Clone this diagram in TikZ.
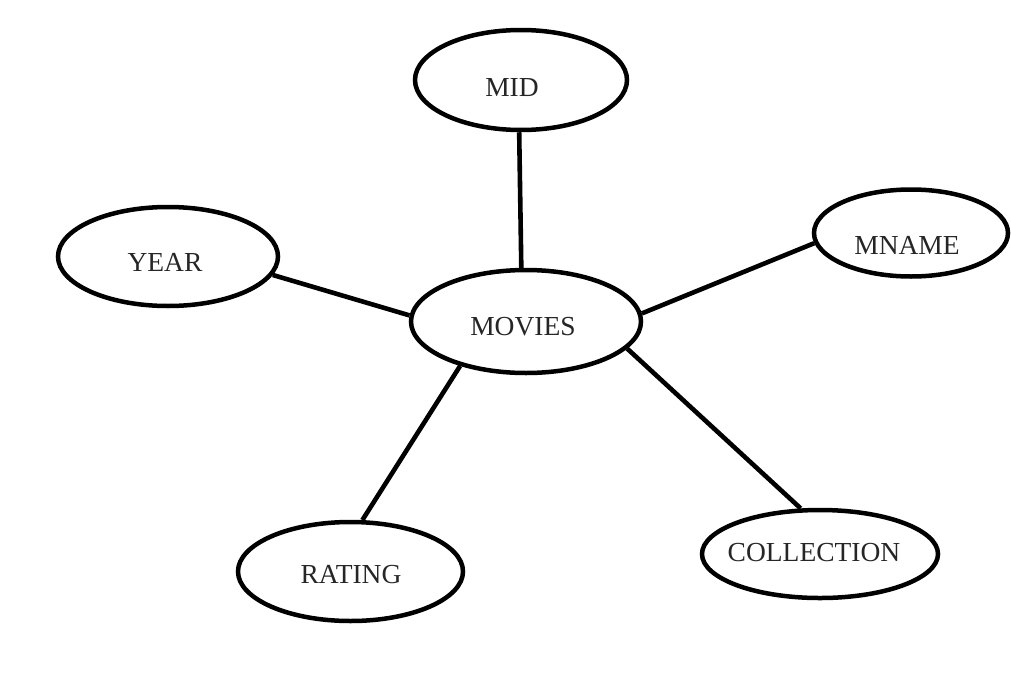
\documentclass[tikz,border=0pt]{standalone}
\usepackage{fontspec}
\setmainfont{Liberation Serif}
\usetikzlibrary{shapes.geometric}
\begin{document}
\begin{tikzpicture}[x=1pt,y=-1pt,
  ent/.style={draw=black,ellipse,line width=4.5pt,inner sep=0pt},
  lbl/.style={inner sep=0pt,text=black!85,font=\fontsize{27.5}{30}\selectfont},
  link/.style={draw=black,line width=4.6pt}]
\useasboundingbox[fill=white] (0,0) rectangle (1011,688);
% entities
\node[ent,minimum width=212pt,minimum height=100pt] (mid) at (521,80) {};
\node[ent,minimum width=220pt,minimum height=99pt] (year) at (168,256.5) {};
\node[ent,minimum width=230pt,minimum height=103pt] (movies) at (526,321.5) {};
\node[ent,minimum width=194pt,minimum height=87pt] (mname) at (911,233) {};
\node[ent,minimum width=225pt,minimum height=99pt] (rating) at (350.5,571.5) {};
\node[ent,minimum width=236pt,minimum height=88pt] (collection) at (820,554) {};
% labels
\node[lbl] (midT) at (512,88) {MID};
\node[lbl] (yearT) at (165,262) {YEAR};
\node[lbl] (moviesT) at (523,327) {MOVIES};
\node[lbl] (mnameT) at (907,245) {MNAME};
\node[lbl] (ratingT) at (351,575) {RATING};
\node[lbl] (collectionT) at (814,553) {COLLECTION};
% connectors
\draw[link] (mid.-92.2) -- (movies.95.5);
\draw[link] (year.-10) -- (movies.177.8);
\draw[link] (mname.-174.8) -- (movies.4.2);
\draw[link] (movies.-146.2) -- (rating.77.4);
\draw[link] (movies.-15.8) -- (collection.113.7);
\end{tikzpicture}
\end{document}
